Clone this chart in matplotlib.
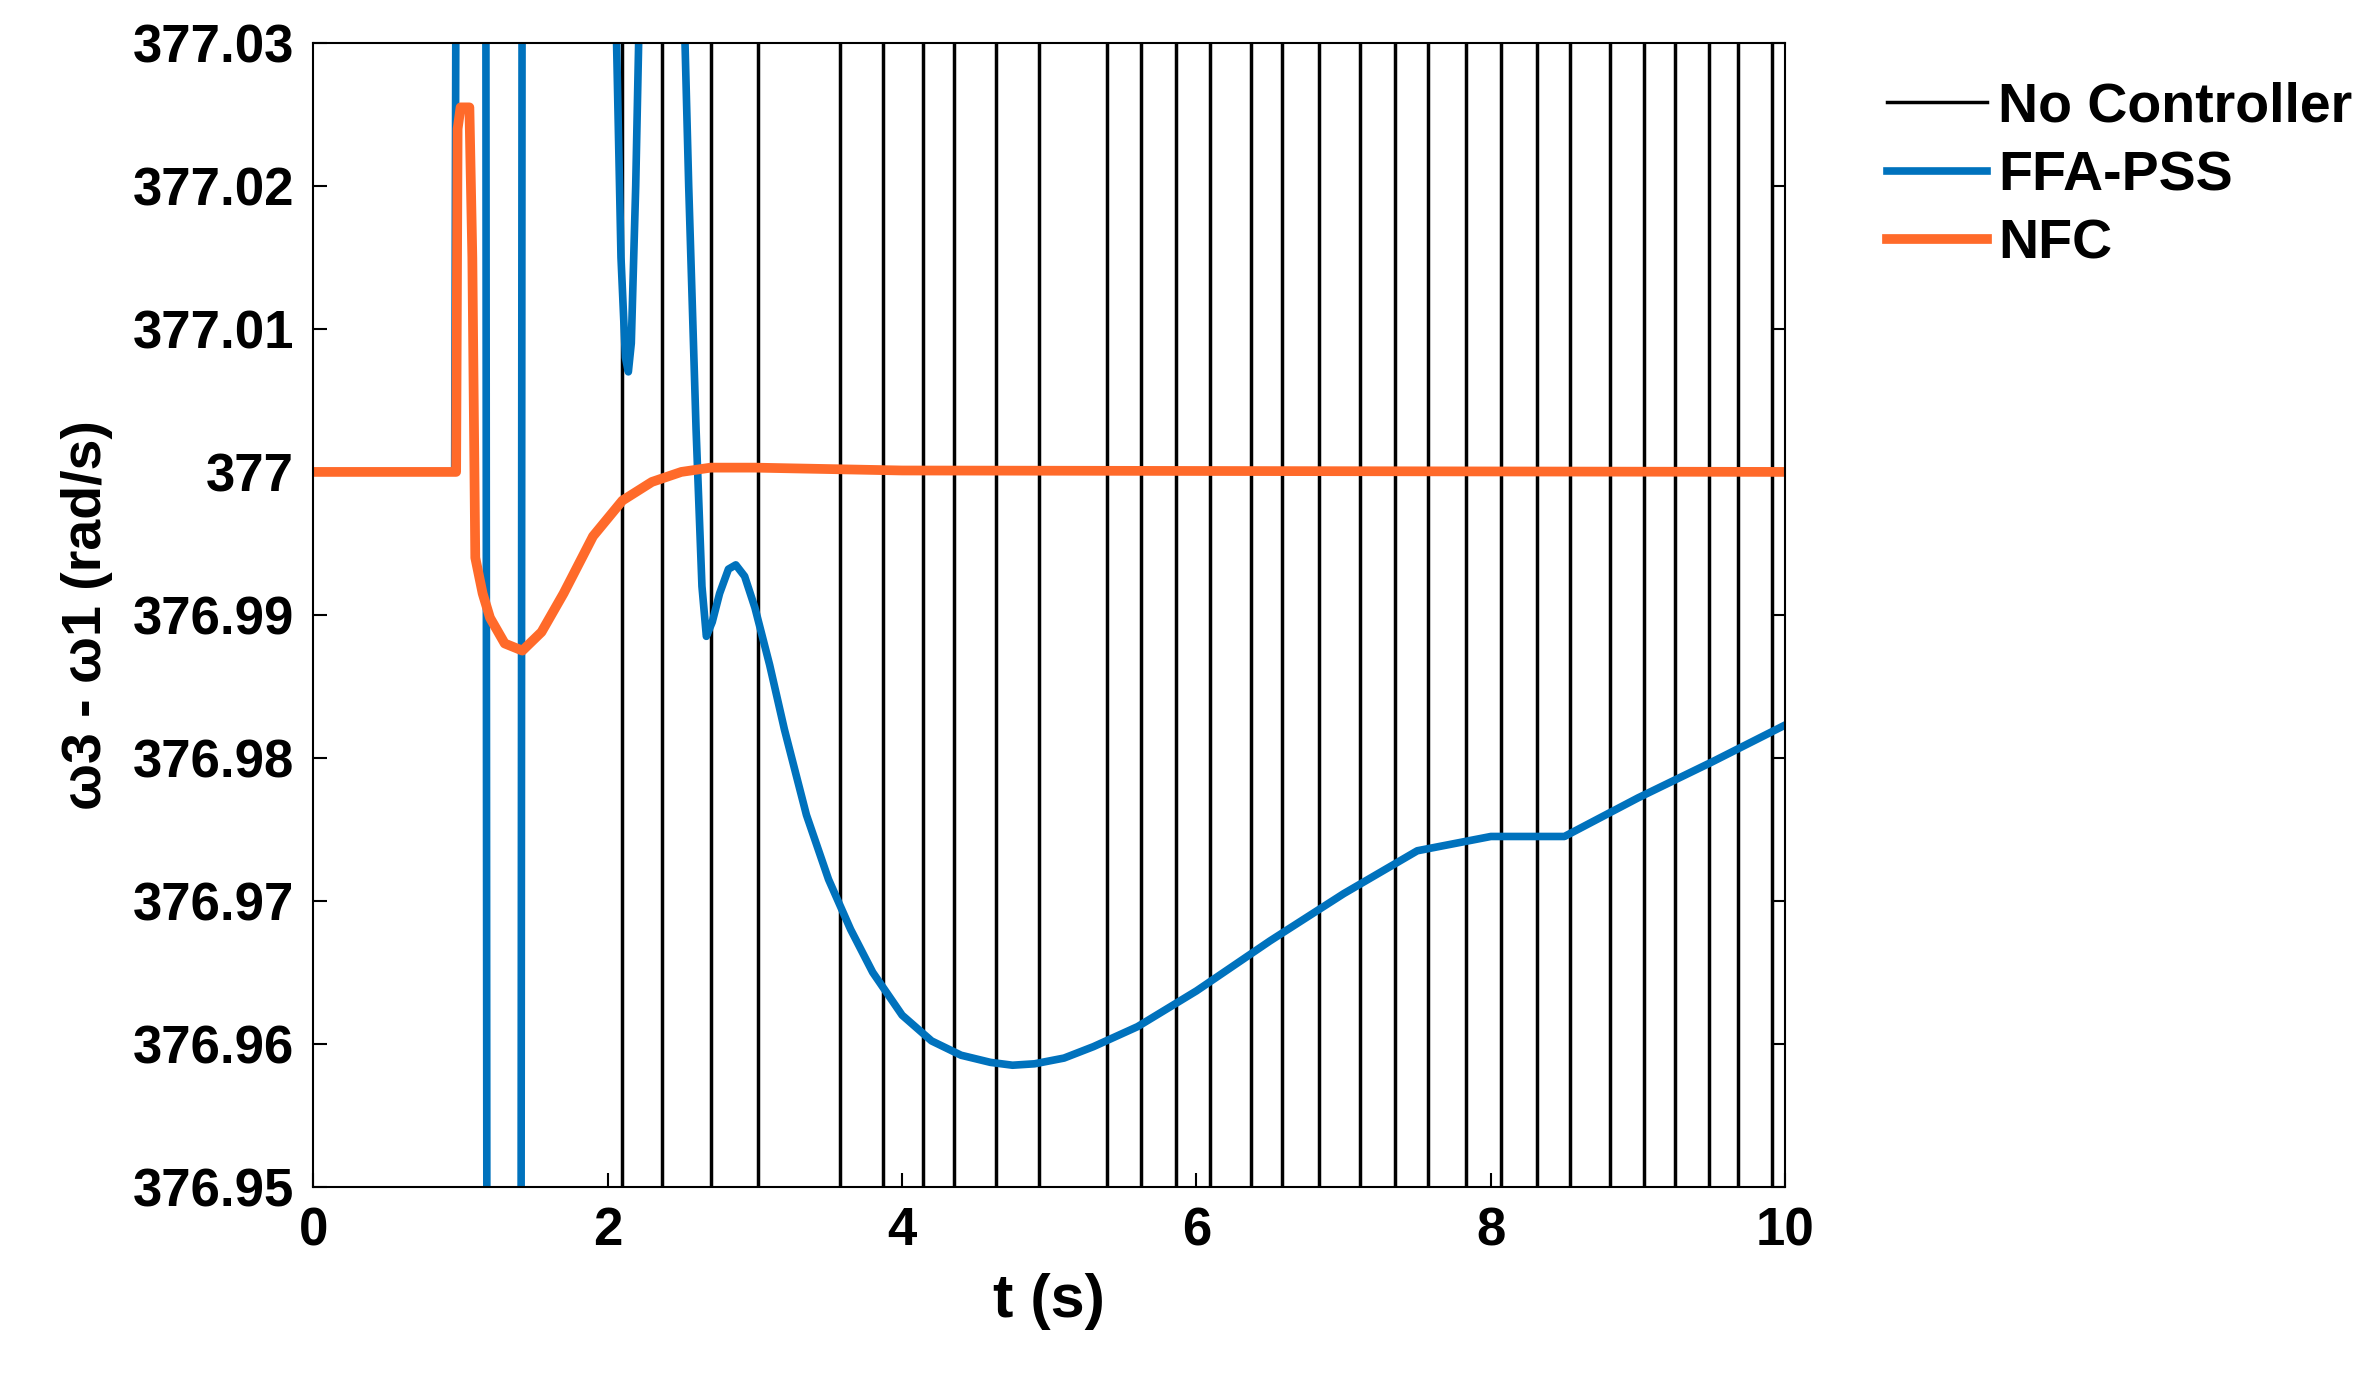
import matplotlib
matplotlib.use("Agg")
import matplotlib.pyplot as plt

# No controller: fast oscillation, shown as vertical crossings (times in s)
nc_times = [2.10, 2.37, 2.70, 3.02, 3.58, 3.87, 4.14, 4.35, 4.64, 4.93,
            5.39, 5.62, 5.86, 6.09, 6.37, 6.58, 6.83, 7.11, 7.35, 7.57, 7.83,
            8.07, 8.31, 8.54, 8.81, 9.04, 9.25, 9.48, 9.68, 9.91]

ffa_t = [0, 0.96, 0.97, 0.98, 1.17, 1.18, 1.19, 1.41, 1.42, 1.43,
         2.03, 2.06, 2.09, 2.12, 2.14, 2.16, 2.19, 2.23,
         2.5, 2.55, 2.6, 2.64, 2.67, 2.71, 2.76, 2.82, 2.87, 2.93,
         3.0, 3.1, 3.2, 3.35, 3.5, 3.65, 3.8, 4.0, 4.2, 4.4, 4.6, 4.75,
         4.9, 5.1, 5.3, 5.6, 6.0, 6.5, 7.0, 7.5, 8.0, 8.5, 9.0, 9.5, 10.0]
ffa_y = [377.0, 377.0, 377.04, 377.06, 377.06, 376.93, 376.93, 376.93, 377.06, 377.06,
         377.06, 377.03, 377.015, 377.008, 377.007, 377.009, 377.02, 377.04,
         377.04, 377.02, 377.003, 376.992, 376.9885, 376.9895, 376.9915, 376.9932, 376.9935, 376.9927,
         376.9905, 376.9865, 376.982, 376.976, 376.9715, 376.968, 376.965, 376.962, 376.9602, 376.9592, 376.9587, 376.9585,
         376.9586, 376.959, 376.9598, 376.9612, 376.9637, 376.967, 376.9705, 376.9738, 376.9768, 376.9795, 376.9818, 376.9838, 376.9823]
ffa_y[-4:] = [376.9745, 376.9772, 376.9797, 376.9823]
ffa_y[-9:-4] = [376.9637, 376.9672, 376.9705, 376.9735, 376.9745][:5]

nfc_t = [0, 0.97, 0.98, 1.0, 1.06, 1.08, 1.1, 1.15, 1.2, 1.3, 1.42, 1.55, 1.7, 1.9, 2.1, 2.3, 2.5, 2.7, 3.0, 4.0, 10.0]
nfc_y = [377.0, 377.0, 377.024, 377.0255, 377.0255, 377.015, 376.994, 376.9915, 376.9898, 376.988, 376.9875, 376.9888, 376.9915, 376.9955, 376.998, 376.9993, 377.0, 377.0003, 377.0003, 377.0001, 377.0]

ymin, ymax = 376.95, 377.03
plt.rcParams['font.family'] = ['Liberation Sans', 'DejaVu Sans']
plt.rcParams['font.weight'] = 'bold'
fig = plt.figure(figsize=(23.74, 13.88), dpi=100)
ax = fig.add_axes([0.132, 0.145, 0.62, 0.824])

for i, t in enumerate(nc_times):
    ax.plot([t, t], [ymin - 1, ymax + 1], color='black', lw=2.5,
            label='No Controller' if i == 0 else None)
ax.plot(ffa_t, ffa_y, color='#0072BD', lw=5.5, label='FFA-PSS')
ax.plot(nfc_t, nfc_y, color='#FF6A2A', lw=7, label='NFC')

ax.set_xlim(0, 10)
ax.set_ylim(ymin, ymax)
ax.set_xticks([0, 2, 4, 6, 8, 10])
yt = [376.95, 376.96, 376.97, 376.98, 376.99, 377.0, 377.01, 377.02, 377.03]
ax.set_yticks(yt)
ax.set_yticklabels(['376.95', '376.96', '376.97', '376.98', '376.99', '377', '377.01', '377.02', '377.03'])
ax.tick_params(labelsize=38, direction='in', length=10, width=1.5, right=True, top=False, pad=14)
for lab in ax.get_xticklabels() + ax.get_yticklabels():
    lab.set_fontweight('bold')
for s in ax.spines.values():
    s.set_linewidth(1.5)
ax.set_xlabel('t (s)', fontsize=44, fontweight='bold', labelpad=12)
ax.set_ylabel('ω3 - ω1 (rad/s)', fontsize=40, fontweight='bold', labelpad=14)
ax.legend(loc='upper left', bbox_to_anchor=(1.035, 1.01), frameon=False,
          handlelength=1.8, handletextpad=0.2, labelspacing=0.3,
          prop={'size': 40, 'weight': 'bold'})
fig.savefig('out.png', dpi=100)
